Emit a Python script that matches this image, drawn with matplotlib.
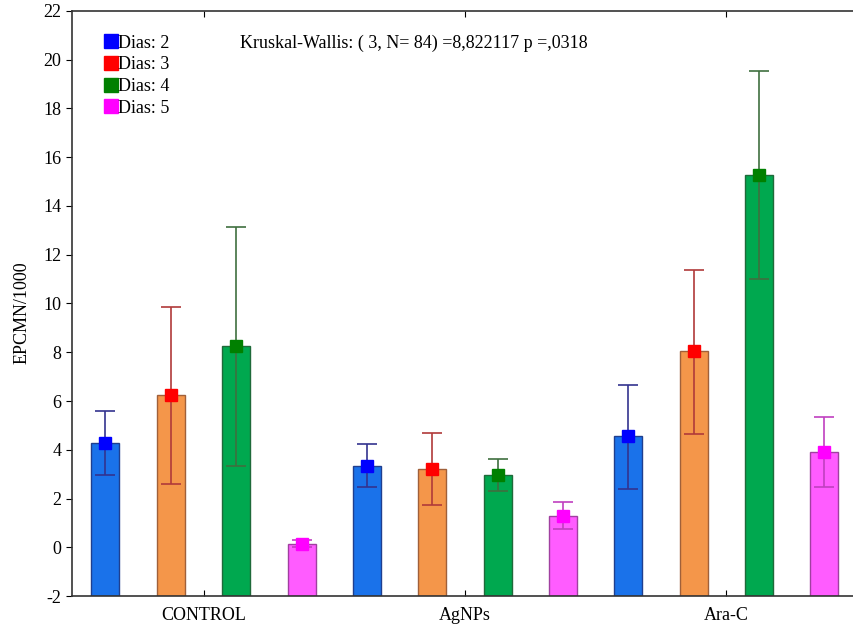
import matplotlib.pyplot as plt
import numpy as np

plt.rcParams["font.family"] = ["Liberation Serif", "DejaVu Serif"]
plt.rcParams["axes.unicode_minus"] = False

# Data
groups = ["CONTROL", "AgNPs", "Ara-C"]
days = ["Dias: 2", "Dias: 3", "Dias: 4", "Dias: 5"]
means = [
    [4.28, 3.35, 4.55],   # Dias 2
    [6.23, 3.23, 8.07],   # Dias 3
    [8.24, 2.95, 15.28],  # Dias 4
    [0.14, 1.29, 3.89],   # Dias 5
]
err_low = [
    [2.95, 2.48, 2.37],
    [2.60, 1.73, 4.66],
    [3.35, 2.31, 11.00],
    [0.00, 0.75, 2.47],
]
err_high = [
    [5.59, 4.22, 6.67],
    [9.87, 4.69, 11.39],
    [13.15, 3.63, 19.52],
    [0.29, 1.85, 5.35],
]

bar_colors = ["#1a72ea", "#f4964a", "#00a84f", "#ff5cff"]
edge_colors = ["#1f3f8f", "#a0603a", "#1f6a3a", "#a040a0"]
mark_colors = ["#0000ff", "#ff0000", "#008000", "#ff00ff"]
err_colors = ["#33338f", "#b03a3a", "#3f6f3f", "#c040c0"]

fig = plt.figure(figsize=(8.54, 6.27), dpi=100)
ax = fig.add_axes([0.0843, 0.0494, 0.9157, 0.9331])

x = np.arange(len(groups))
offsets = [-0.375, -0.125, 0.125, 0.375]
handles = []
for i in range(len(days)):
    xs = x + offsets[i]
    m = np.array(means[i])
    lo = m - np.array(err_low[i])
    hi = np.array(err_high[i]) - m
    ax.bar(xs, m + 2, bottom=-2, width=0.107, color=bar_colors[i],
           edgecolor=edge_colors[i], linewidth=1.0, zorder=2)
    ax.errorbar(xs, m, yerr=[lo, hi], fmt="none", ecolor=err_colors[i],
                elinewidth=1.2, capsize=7.5, capthick=1.2, zorder=3)
    h, = ax.plot(xs, m, "s", color=mark_colors[i], markersize=9,
                 markeredgecolor=mark_colors[i], zorder=4, label=days[i])
    handles.append(h)

ax.set_xlim(-0.503, 2.488)
ax.set_ylim(-2, 22)
ax.set_yticks(np.arange(-2, 23, 2))
ax.set_xticks(x)
ax.set_xticklabels(groups)
ax.tick_params(axis="x", direction="in", length=4, top=True, labelsize=13, pad=8)
ax.tick_params(axis="y", direction="out", length=4, labelsize=13)
ax.spines["right"].set_visible(False)
for s in ["left", "bottom", "top"]:
    ax.spines[s].set_color("#333333")
    ax.spines[s].set_linewidth(1.2)

ax.set_ylabel("EPCMN/1000", fontsize=13)
ax.yaxis.set_label_coords(-0.053, 0.484)

leg = ax.legend(handles=handles, loc="upper left", bbox_to_anchor=(0.034, 0.972),
                frameon=False, fontsize=13, handlelength=0.6, handletextpad=0.05,
                labelspacing=0.26, borderaxespad=0, markerscale=1.15)

ax.text(0.215, 0.945, "Kruskal-Wallis: ( 3, N= 84) =8,822117 p =,0318",
        transform=ax.transAxes, fontsize=13, va="center", ha="left")

fig.savefig("out.png", dpi=100)
